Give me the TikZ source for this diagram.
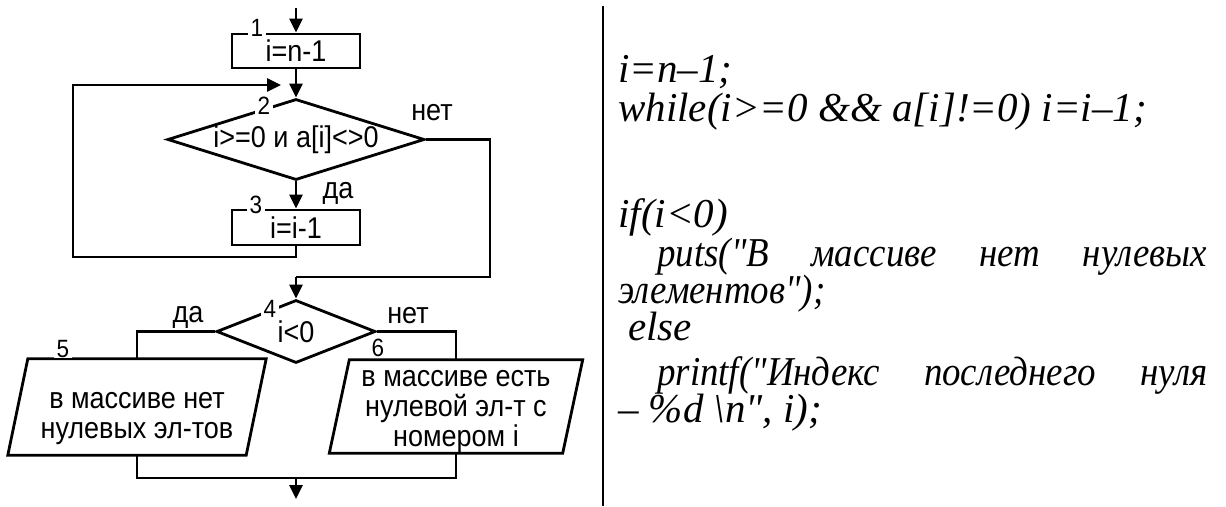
\documentclass[tikz,border=0pt]{standalone}
\usepackage{fontspec}
\setmainfont{Liberation Sans}
\newfontfamily\fcfont[FakeStretch=0.9]{Liberation Sans}
\newfontfamily\codefont{Liberation Serif}
\newfontfamily\codecyr[FakeStretch=0.9]{Liberation Serif}
\usetikzlibrary{shapes.geometric,arrows.meta,calc}
\begin{document}
\begin{tikzpicture}[x=1pt,y=-1pt,
  ln/.style={line width=2.8pt, line join=miter},
  arr/.style={ln, -{Triangle[length=14pt,width=13pt]}},
  fc/.style={font=\fcfont\fontsize{30}{30}\selectfont, align=center, inner sep=0pt},
  lab/.style={font=\fcfont\fontsize{25}{25}\selectfont, fill=white, inner xsep=3pt, inner ysep=0pt},
  blk/.style={fc, draw, ln, rectangle, minimum width=128pt, minimum height=34pt},
  dec/.style={fc, draw, ln, diamond, inner sep=0pt},
  iobox/.style={rectangle, draw=none, inner sep=0pt},
  codeline/.style={font=\codefont\itshape\fontsize{41}{41}\selectfont, anchor=base west, inner sep=0pt},
  cyrline/.style={font=\codecyr\itshape\fontsize{41}{41}\selectfont, anchor=base west, inner sep=0pt}]
\useasboundingbox (0,0) rectangle (1226,506);

% ---------- flowchart ----------
\coordinate (start) at (296,8);
\node[blk] (b1) at (296,51) {i=n-1};
\node[lab] (l1) at (257,28) {1};

\node[dec, minimum width=257pt, minimum height=81pt, aspect=3.2] (d2) at (296,139.5) {i>=0 и a[i]<>0};
\node[lab] (l2) at (264,106) {2};
\node[fc] (no2) at (432,113) {нет};

\node[blk, minimum height=35pt] (b3) at (296,227.5) {i=i-1};
\node[lab] (l3) at (256,205) {3};
\node[fc] (yes2) at (338,193) {да};

\node[dec, minimum width=159pt, minimum height=63pt, aspect=2.5] (d4) at (296,331.5) {i<0};
\node[lab] (l4) at (270,309) {4};
\node[fc] (yes4) at (188,317) {да};
\node[fc] (no4) at (408,316) {нет};

\node[iobox, minimum width=238pt, minimum height=96pt] (b5) at (137,407) {};
\draw[ln] ($(b5.north west)+(10,0)$) -- ($(b5.north east)+(10,0)$) -- ($(b5.south east)+(-10,0)$) -- ($(b5.south west)+(-10,0)$) -- cycle;
\node[fc] (t5) at (137,419) {в массиве нет\\нулевых эл-тов};
\node[lab] (l5) at (63,349) {5};

\node[iobox, minimum width=233pt, minimum height=93pt] (b6) at (456,406.5) {};
\draw[ln] ($(b6.north west)+(10,0)$) -- ($(b6.north east)+(10,0)$) -- ($(b6.south east)+(-10,0)$) -- ($(b6.south west)+(-10,0)$) -- cycle;
\node[fc] (t6) at (456,412) {в массиве есть\\нулевой эл-т с\\номером i};
\node[lab] (l6) at (378,348) {6};

% connectors
\draw[arr] (start) -- (b1.north);
\draw[arr] (b1.south) -- (d2.north);
\draw[arr] (d2.south) -- (b3.north);
\coordinate (lb) at (73,257);
\coordinate (lt) at (73,85);
\coordinate (ae) at (281,85);
\draw[arr] (b3.south) |- (lb) -- (lt) -- (ae);
\coordinate (rc) at (490,277);
\coordinate (m) at (296,277);
\draw[ln] (d2.east) -| (rc) -- (m);
\draw[arr] (m) -- (d4.north);
\draw[ln] (d4.west) -| (b5.north);
\draw[ln] (d4.east) -| (b6.north);
\coordinate (j) at (296,478);
\coordinate (fin) at (296,499);
\draw[ln] (b5.south) |- (j);
\draw[ln] (b6.south) |- (j);
\draw[arr] (j) -- (fin);

% separator
\coordinate (s1) at (603,6);
\coordinate (s2) at (603,506);
\draw[ln] (s1) -- (s2);

% ---------- code ----------
\node[codeline] (c1) at (618,82) {i=n–1;};
\node[codeline] (c2) at (618,121) {while(i>=0 \&\& a[i]!=0) i=i–1;};
\node[codeline] (c3) at (618,227) {if(i<0)};
\node[cyrline] (c4) at (657,266) {\makebox[550pt][s]{puts("В массиве нет нулевых}};
\node[cyrline] (c5) at (618,303) {элементов");};
\node[codeline] (c6) at (628,340) {else};
\node[cyrline] (c7) at (657,385) {\makebox[550pt][s]{printf("Индекс последнего нуля}};
\node[codeline] (c8) at (618,422) {– \%d \textbackslash n", i);};
\end{tikzpicture}
\end{document}
